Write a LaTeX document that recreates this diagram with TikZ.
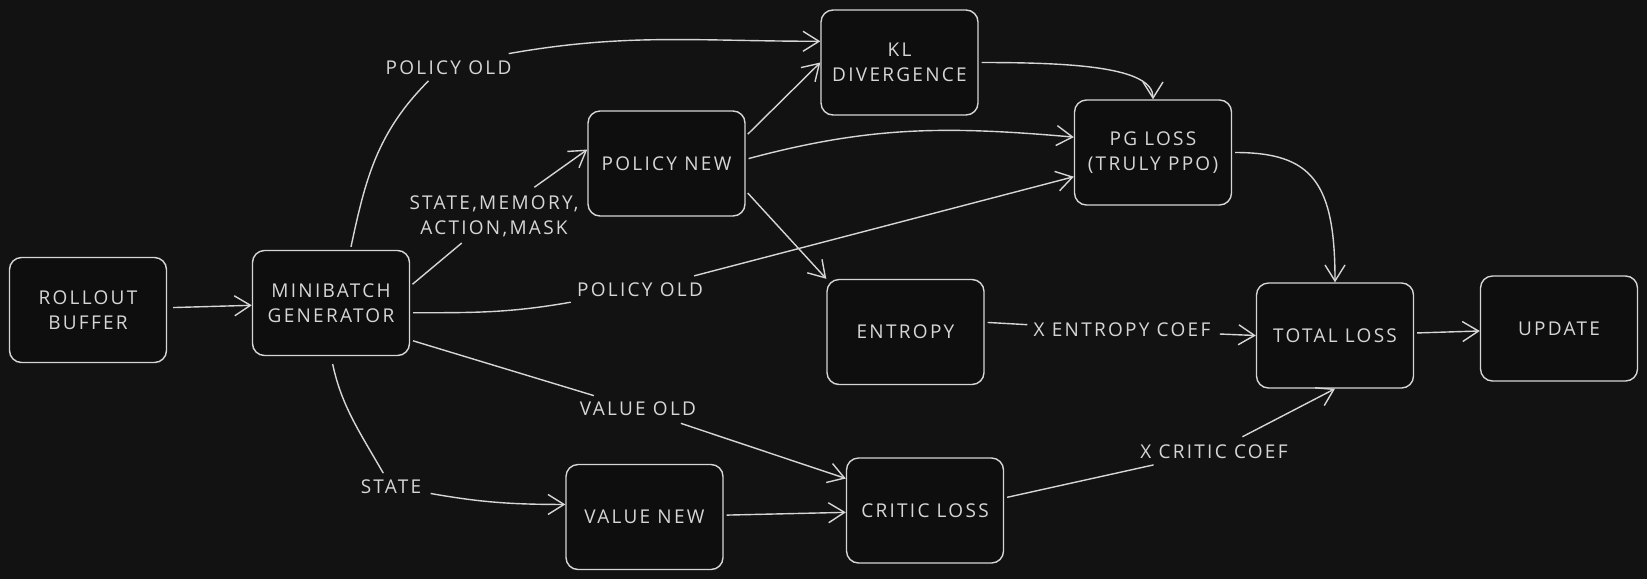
\documentclass[tikz,border=0pt]{standalone}
\usepackage{fontspec}
\setmainfont{Open Sans}[LetterSpace=12]
\usetikzlibrary{arrows.meta}
\definecolor{bgcol}{HTML}{121212}
\definecolor{inkcol}{HTML}{D6D6D6}
\definecolor{boxfill}{HTML}{0E0E0E}

\begin{document}
\begin{tikzpicture}[x=0.5pt, y=-0.5pt, font=\fontsize{9.5}{12.5}\selectfont, text=inkcol,
    block/.style={rectangle, rounded corners=6pt, draw=inkcol, line width=0.7pt, fill=boxfill, minimum width=78.5pt, minimum height=52.5pt, align=center},
    lbl/.style={inner sep=3pt, align=center},
    link/.style={draw=inkcol, line width=0.7pt, shorten <=1.5pt},
    arr/.style={link, -{Straight Barb[length=8pt, width=10pt]}}
]
\useasboundingbox (0,0) rectangle (1647,579);
\fill[bgcol] (0,0) rectangle (1647,579);

% Boxes (left to right)
\node[block] (rollout) at (88,310) {ROLLOUT\\BUFFER};
\node[block] (minibatch) at (331,303) {MINIBATCH\\GENERATOR};
\node[block] (policynew) at (666.5,163.5) {POLICY NEW};
\node[block] (valuenew) at (644.5,517) {VALUE NEW};
\node[block] (kl) at (899.5,62.5) {KL\\DIVERGENCE};
\node[block] (entropy) at (905.5,332) {ENTROPY};
\node[block] (critic) at (925,510.5) {CRITIC LOSS};
\node[block] (pgloss) at (1153,152.5) {PG LOSS\\(TRULY PPO)};
\node[block] (totalloss) at (1335,335.5) {TOTAL LOSS};
\node[block] (update) at (1559,328.5) {UPDATE};

% Labels
\node[lbl] (lpo1) at (448.5,67.5) {POLICY OLD};
\node[lbl] (lsmam) at (494,216) {STATE,MEMORY,\\ACTION,MASK};
\node[lbl] (lpo2) at (640,290) {POLICY OLD};
\node[lbl] (lvo) at (638,409) {VALUE OLD};
\node[lbl] (lstate) at (391,486.5) {STATE};
\node[lbl] (lec) at (1122,330) {X ENTROPY COEF};
\node[lbl] (lcc) at (1214,451.5) {X CRITIC COEF};

% Arrows
\draw[arr, shorten <=3pt] (rollout) -- (minibatch);
\draw[link] (minibatch.70) to[out=78, in=225] ([xshift=-10pt]lpo1.south);
\draw[arr] ([xshift=-6pt]lpo1.north east) to[out=10, in=180] (kl.165);
\draw[link] (minibatch.12) -- (lsmam);
\draw[arr] (lsmam) -- (policynew.170);
\draw[link] (minibatch.-7) to[out=0, in=190] (lpo2);
\draw[arr] (lpo2) -- (pgloss.197);
\draw[link] (minibatch.-25) -- (lvo);
\draw[arr] (lvo) -- (critic.158);
\draw[link, shorten <=4pt] (minibatch.south) to[out=-78, in=120] (lstate);
\draw[arr] (lstate) to[out=-10, in=180] (valuenew.171);

\draw[arr] (policynew.19) -- (kl.west);
\draw[arr] (policynew.3) to[out=15, in=175] (pgloss.169);
\draw[arr] (policynew.-19) -- (entropy.north west);
\draw[arr] (valuenew) -- (critic);

\draw[arr] (kl.east) to[out=0, in=90, out distance=48pt, in distance=16pt] (pgloss.north);
\draw[arr] (pgloss.east) to[out=0, in=90, out distance=40pt, in distance=50pt] (totalloss.north);
\draw[link] (entropy.7) -- (lec);
\draw[arr] (lec) -- (totalloss.west);
\draw[link] (critic.9) -- (lcc);
\draw[arr] (lcc) -- (totalloss.south);
\draw[arr] (totalloss) -- (update);
\end{tikzpicture}
\end{document}
